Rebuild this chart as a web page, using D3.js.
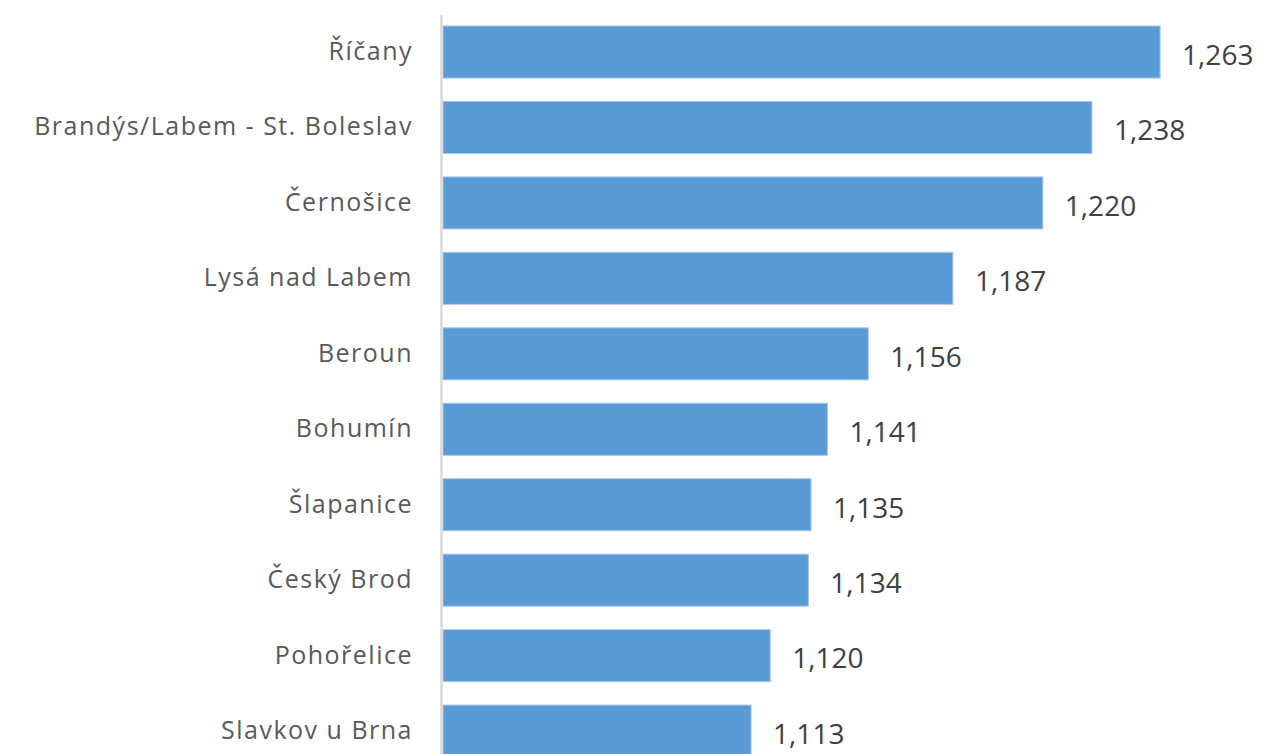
<!DOCTYPE html>
<html>
<head>
<meta charset="utf-8">
<script src="https://cdn.jsdelivr.net/npm/d3@7"></script>
<style>
  body { margin: 0; background: #fff; }
  svg { display: block; }
</style>
</head>
<body>
<div id="chart"></div>
<script>
const categories = [
  'Říčany',
  'Brandýs/Labem - St. Boleslav',
  'Černošice',
  'Lysá nad Labem',
  'Beroun',
  'Bohumín',
  'Šlapanice',
  'Český Brod',
  'Pohořelice',
  'Slavkov u Brna'
];
const values = [1.263, 1.238, 1.220, 1.187, 1.156, 1.141, 1.135, 1.134, 1.120, 1.113];
const xDomain = [1.0, 1.3];

const width = 1261;
const height = 754;

const svg = d3.select('#chart')
  .append('svg')
  .attr('width', width)
  .attr('height', height);

const x = d3.scaleLinear()
  .domain(xDomain)
  .range([443, 1261]);

const y = d3.scaleBand()
  .domain(categories)
  .range([14.3, 768.8])
  .paddingInner(0.31)
  .paddingOuter(0.155);

const fmt = v => d3.format('.3f')(v).replace('.', ',');

svg.selectAll('rect.bar')
  .data(values)
  .enter()
  .append('rect')
  .attr('class', 'bar')
  .attr('x', x(xDomain[0]))
  .attr('y', (d, i) => y(categories[i]))
  .attr('width', d => x(d) - x(xDomain[0]))
  .attr('height', y.bandwidth())
  .attr('fill', '#5b9bd5')
  .attr('stroke', '#a9c8ea')
  .attr('stroke-width', 1);

// category axis
const axis = svg.append('g')
  .attr('transform', `translate(${x(xDomain[0]) - 1.5},0)`)
  .call(d3.axisLeft(y).tickSize(0).tickPadding(28.5));

axis.select('.domain')
  .attr('d', `M0,${y.range()[0] + 0.7}V${height}`)
  .attr('stroke', '#d9d9d9')
  .attr('stroke-width', 2.5);

axis.selectAll('text')
  .style('font-family', '"Open Sans", sans-serif')
  .style('font-size', '25px')
  .style('letter-spacing', '1.5px')
  .attr('fill', '#595959');

svg.selectAll('text.val')
  .data(values)
  .enter()
  .append('text')
  .attr('class', 'val')
  .attr('x', d => x(d) + 22)
  .attr('y', (d, i) => y(categories[i]) + y.bandwidth() / 2 + 3)
  .attr('dy', '0.35em')
  .style('font-family', '"Open Sans", sans-serif')
  .style('font-size', '28px')
  .attr('fill', '#404040')
  .text(d => fmt(d));
</script>
</body>
</html>
